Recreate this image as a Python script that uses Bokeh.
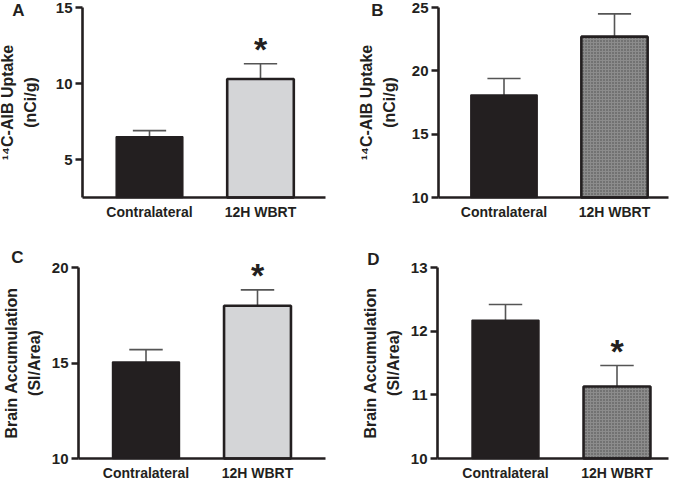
from bokeh.plotting import figure
from bokeh.layouts import column, row
from bokeh.models import FixedTicker, Label, Range1d
from bokeh.core.properties import value
from bokeh.embed import file_html
from bokeh.resources import INLINE

# ---- data ----
groups = ["Contralateral", "12H WBRT"]
xpos = [1, 2]

a_means = [6.5, 10.3]
a_errs = [0.4, 1.0]
a_ticks = [5, 10, 15]

b_means = [18.1, 22.7]
b_errs = [1.3, 1.8]
b_ticks = [10, 15, 20, 25]

c_means = [15.05, 18.0]
c_errs = [0.65, 0.83]
c_ticks = [10, 15, 20]

d_means = [12.17, 11.13]
d_errs = [0.25, 0.33]
d_ticks = [10, 11, 12, 13]

label_uptake = "\u00b9\u2074C-AIB Uptake\n(nCi/g)"
label_brain = "Brain Accumulation\n(SI/Area)"

INK = "#231f20"
FONT = "Liberation Sans"
BW = 0.6


def panel(means, errs, yr, yticks, ylabel, letter, hatched, star, W, H, geo, lab_standoff):
    # geo: pixel layout inside the figure (left/top origin)
    ax_x, c1, ppx, x_end, y_top_px, y_bot_px, lx, ly = geo
    ppy = (y_bot_px - y_top_px) / (yr[1] - yr[0])

    def dx(sx):
        return 1 + (sx - c1) / ppx

    def dy(sy):
        return yr[1] + (y_top_px - sy) / ppy

    p = figure(width=W, height=H, output_backend="svg", toolbar_location=None,
               x_range=Range1d(dx(0), dx(W)), y_range=Range1d(dy(H), dy(0)),
               min_border=0, min_border_left=0, min_border_right=0,
               min_border_top=0, min_border_bottom=0)
    p.outline_line_color = None
    p.grid.visible = False
    p.background_fill_color = "white"
    p.border_fill_color = "white"

    for ax in (p.xaxis[0], p.yaxis[0]):
        ax.axis_line_width = 2.6
        ax.axis_line_color = INK
        ax.major_tick_line_color = INK
        ax.major_tick_line_width = 2.6
        ax.minor_tick_line_color = None
        ax.major_label_text_font = FONT
        ax.major_label_text_font_style = "bold"
        ax.major_label_text_color = INK
    p.xaxis.major_label_text_font_size = "14px"
    p.yaxis.major_label_text_font_size = "15px"

    p.xaxis.fixed_location = yr[0]
    p.xaxis.bounds = (dx(ax_x), dx(x_end))
    p.xaxis.ticker = FixedTicker(ticks=xpos)
    p.xaxis.major_label_overrides = {x: g for x, g in zip(xpos, groups)}
    p.xaxis.major_tick_out = 0
    p.xaxis.major_tick_in = 0
    p.xaxis.major_label_standoff = 6

    p.yaxis.fixed_location = dx(ax_x)
    p.yaxis.bounds = yr
    p.yaxis.ticker = FixedTicker(ticks=yticks)
    p.yaxis.major_tick_out = 7
    p.yaxis.major_tick_in = 0
    p.yaxis.major_label_standoff = 3
    p.yaxis.axis_label = ylabel
    p.yaxis.axis_label_text_font = FONT
    p.yaxis.axis_label_text_font_style = "bold"
    p.yaxis.axis_label_text_font_size = "16px"
    p.yaxis.axis_label_text_line_height = 1.35
    p.yaxis.axis_label_text_color = INK
    p.yaxis.axis_label_standoff = lab_standoff

    base = yr[0]
    tops = [m + e for m, e in zip(means, errs)]
    p.segment(x0=xpos, y0=means, x1=xpos, y1=tops, line_color="#555555", line_width=1.6)
    p.segment(x0=[x - BW / 4 for x in xpos], y0=tops, x1=[x + BW / 4 for x in xpos], y1=tops,
              line_color="#555555", line_width=1.6)

    p.vbar(x=[xpos[0]], top=[means[0]], bottom=base, width=BW,
           fill_color=INK, line_color=INK, line_width=1.5)
    if hatched:
        p.vbar(x=[xpos[1]], top=[means[1]], bottom=base, width=BW,
               fill_color="#8c8c8c", line_color=INK, line_width=2.6,
               hatch_pattern="dot", hatch_color="#4a4a4a", hatch_scale=3, hatch_weight=1)
    else:
        p.vbar(x=[xpos[1]], top=[means[1]], bottom=base, width=BW,
               fill_color="#d4d5d7", line_color=INK, line_width=2.6)

    if star is not None:
        p.text(x=[xpos[star]], y=[tops[star] + 15 / ppy], text=["*"],
               text_font=value(FONT), text_font_style="bold", text_font_size="34px",
               text_color=INK, text_align="center", text_baseline="middle")

    p.add_layout(Label(x=dx(lx), y=dy(ly), text=letter, text_font=FONT,
                       text_font_style="bold", text_font_size="17px", text_color=INK,
                       text_align="center", text_baseline="middle"))
    return p


# geometry: (axis x, bar-1 centre, px per category, x-axis end, top tick px, bottom px, letter x, letter y)
pA = panel(a_means, a_errs, (2.5, 15), a_ticks, label_uptake, "A", False, 1, 332, 236,
           (82, 149, 111, 325, 7, 197, 18, 10), 14)
pB = panel(b_means, b_errs, (10, 25), b_ticks, label_uptake, "B", True, None, 337, 236,
           (106, 171.5, 110.5, 336, 7, 197, 45, 10), 11)
pC = panel(c_means, c_errs, (10, 20), c_ticks, label_brain, "C", False, 1, 332, 244,
           (78, 145.5, 111.5, 325, 31, 222, 17, 21), 6)
pD = panel(d_means, d_errs, (10, 13), d_ticks, label_brain, "D", True, 1, 337, 244,
           (105, 173, 111.5, 336, 31, 222, 41, 23), 6)

layout = column(row(pA, pB), row(pC, pD))
open("out.html", "w").write(file_html(layout, INLINE))
